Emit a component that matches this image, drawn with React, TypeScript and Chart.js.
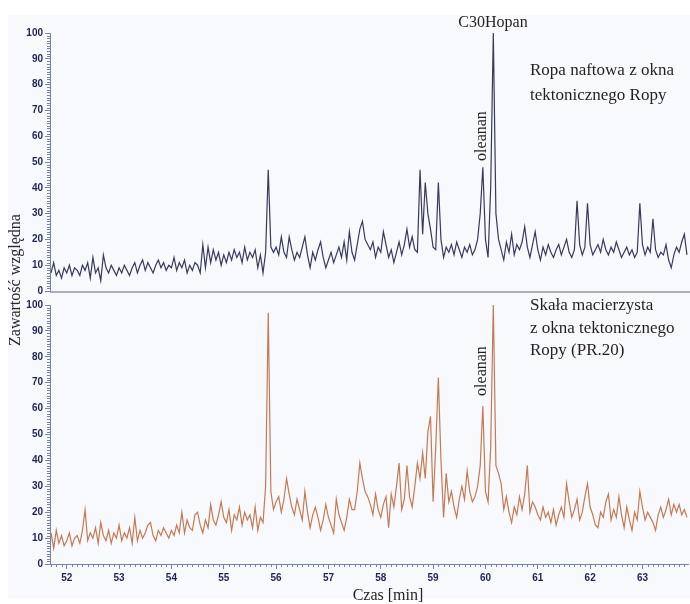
import React, { useEffect, useRef } from 'react';
import { Chart, registerables } from 'chart.js';

Chart.register(...registerables);

// sampling grid of the chromatograms (minutes)
const T_START = 51.7;
const T_STEP = 0.05;
const X_MIN = 51.68;
const X_MAX = 63.87;
const X_TICKS = [52, 53, 54, 55, 56, 57, 58, 59, 60, 61, 62, 63];
const Y_TICKS = [0, 10, 20, 30, 40, 50, 60, 70, 80, 90, 100];

// Ropa naftowa z okna tektonicznego Ropy (upper trace)
const ROPA = [
  7, 11, 6, 8, 5, 9,
  7, 10, 6, 9, 8, 6, 10, 8, 11, 5,
  13, 7, 9, 4, 14, 9, 7, 10, 8, 6,
  9, 7, 10, 8, 6, 9, 11, 7, 10, 12,
  8, 11, 9, 7, 10, 12, 9, 11, 8, 10,
  9, 13, 8, 11, 9, 12, 7, 10, 8, 11,
  10, 7, 18, 9, 17, 11, 16, 12, 15, 10,
  14, 11, 15, 12, 16, 13, 15, 11, 17, 12,
  15, 13, 16, 9, 14, 7, 15, 47, 17, 15,
  17, 14, 21, 15, 13, 21, 16, 12, 15, 13,
  17, 21, 14, 9, 15, 12, 16, 19, 13, 9,
  12, 15, 11, 14, 17, 13, 19, 12, 23, 15,
  12, 18, 24, 27, 20, 18, 16, 19, 13, 17,
  15, 23, 18, 13, 16, 11, 15, 19, 14, 18,
  24, 17, 21, 16, 15, 47, 22, 42, 30, 24,
  17, 16, 42, 20, 13, 17, 15, 18, 14, 19,
  16, 13, 17, 15, 18, 14, 16, 20, 30, 48,
  20, 13, 40, 100, 30, 20, 16, 12, 19, 15,
  22, 14, 18, 16, 19, 25, 17, 13, 18, 23,
  16, 12, 17, 14, 18, 15, 13, 16, 18, 14,
  17, 20, 15, 13, 16, 35, 18, 14, 17, 34,
  18, 14, 16, 18, 15, 20, 16, 14, 17, 15,
  19, 16, 13, 15, 17, 14, 16, 13, 15, 34,
  18, 14, 17, 15, 28, 16, 13, 15, 14, 18,
  12, 9, 14, 17, 15, 19, 22, 14,
];

// Skała macierzysta z okna tektonicznego Ropy (PR.20) (lower trace)
const SKALA = [
  12, 6, 13, 8, 11, 7,
  9, 12, 7, 10, 11, 8, 13, 21, 9, 12,
  10, 14, 8, 16, 11, 9, 13, 8, 12, 10,
  15, 9, 12, 10, 14, 8, 18, 9, 13, 10,
  12, 15, 16, 11, 9, 13, 11, 14, 12, 10,
  13, 11, 15, 12, 20, 12, 17, 14, 13, 19,
  20, 15, 12, 17, 14, 23, 17, 15, 19, 24,
  18, 16, 21, 13, 19, 17, 22, 15, 20, 17,
  19, 14, 22, 13, 18, 16, 30, 97, 28, 21,
  24, 26, 20, 25, 33, 27, 22, 19, 25, 21,
  17, 28, 20, 14, 19, 22, 18, 13, 17, 23,
  18, 15, 12, 25, 19, 16, 13, 18, 25, 21,
  21, 28, 39, 33, 28, 26, 23, 19, 27, 21,
  18, 23, 26, 14, 27, 22, 30, 39, 21, 25,
  38, 26, 22, 30, 39, 33, 43, 33, 51, 57,
  24, 45, 72, 40, 18, 35, 24, 28, 22, 18,
  25, 30, 25, 36, 28, 24, 26, 30, 38, 61,
  28, 24, 45, 100, 38, 35, 31, 21, 26, 20,
  16, 22, 19, 26, 21, 27, 38, 20, 24, 22,
  19, 17, 22, 18, 20, 16, 21, 15, 19, 22,
  18, 31, 24, 18, 21, 25, 17, 20, 26, 31,
  22, 19, 15, 14, 20, 18, 24, 27, 17, 21,
  18, 26, 19, 14, 22, 17, 13, 20, 17, 28,
  22, 17, 20, 18, 16, 13, 19, 22, 18, 21,
  25, 19, 23, 20, 23, 19, 21, 18,
];

const W = 690;
const H = 604;
const AXIS_COLOR = '#7684a3';
const TICK_TEXT = '#1f2350';
const TEXT_COLOR = '#231f20';
const SERIF = '"Liberation Serif", "Times New Roman", serif';
const SANS = '"Liberation Sans", Arial, sans-serif';

function toPoints(vals: number[]) {
  return vals.map((v, i) => ({ x: Math.round((T_START + i * T_STEP) * 100) / 100, y: v }));
}

const minorTicks = {
  id: 'minorTicks',
  afterDraw(chart: any, _args: any, opts: any) {
    const { ctx, chartArea } = chart;
    const ys = chart.scales.y;
    const xs = chart.scales.x;
    ctx.save();
    ctx.strokeStyle = AXIS_COLOR;
    ctx.lineWidth = 1;
    ctx.beginPath();
    for (let v = 0; v <= 100; v++) {
      if (v % 10 === 0) continue;
      const py = Math.round(ys.getPixelForValue(v)) + 0.5;
      ctx.moveTo(chartArea.left - 3, py);
      ctx.lineTo(chartArea.left, py);
    }
    if (opts && opts.x) {
      for (let k = Math.ceil(X_MIN * 10); k <= Math.floor(X_MAX * 10); k++) {
        if (k % 10 === 0) continue;
        const px = Math.round(xs.getPixelForValue(k / 10)) + 0.5;
        ctx.moveTo(px, chartArea.bottom);
        ctx.lineTo(px, chartArea.bottom + 3);
      }
    }
    ctx.stroke();
    ctx.restore();
  },
};

function makeConfig(values: number[], color: string, width: number, padTop: number, padBottom: number, showX: boolean): any {
  const tickFont = { family: SANS, size: 10, weight: 'bold' as const };
  return {
    type: 'line',
    data: {
      datasets: [
        {
          data: toPoints(values),
          borderColor: color,
          borderWidth: width,
          pointRadius: 0,
          tension: 0,
          fill: false,
        },
      ],
    },
    options: {
      animation: false,
      responsive: false,
      events: [],
      layout: { padding: { left: 0, right: 2, top: padTop, bottom: padBottom } },
      plugins: {
        legend: { display: false },
        tooltip: { enabled: false },
        minorTicks: { x: showX },
      },
      scales: {
        x: {
          type: 'linear',
          min: X_MIN,
          max: X_MAX,
          display: showX,
          afterBuildTicks: (s: any) => {
            s.ticks = X_TICKS.map((v) => ({ value: v }));
          },
          afterFit: (s: any) => {
            s.height = showX ? 30 : 0;
          },
          ticks: {
            font: tickFont,
            color: TICK_TEXT,
            padding: 3,
            maxRotation: 0,
            autoSkip: false,
            callback: (v: any) => String(v),
          },
          grid: { drawOnChartArea: false, drawTicks: true, tickLength: 5, color: AXIS_COLOR },
          border: { display: true, color: AXIS_COLOR, width: 1 },
        },
        y: {
          type: 'linear',
          min: 0,
          max: 100,
          afterBuildTicks: (s: any) => {
            s.ticks = Y_TICKS.map((v) => ({ value: v }));
          },
          afterFit: (s: any) => {
            s.width = 50;
          },
          ticks: {
            font: tickFont,
            color: TICK_TEXT,
            padding: 2,
            autoSkip: false,
            callback: (v: any) => String(v),
          },
          grid: { drawOnChartArea: false, drawTicks: true, tickLength: 5, color: AXIS_COLOR },
          border: { display: true, color: AXIS_COLOR, width: 1 },
        },
      },
    },
    plugins: [minorTicks],
  };
}

const abs = (extra: React.CSSProperties): React.CSSProperties => ({
  position: 'absolute',
  whiteSpace: 'nowrap',
  color: TEXT_COLOR,
  fontFamily: SERIF,
  ...extra,
});

export default function App() {
  const topRef = useRef<HTMLCanvasElement>(null);
  const botRef = useRef<HTMLCanvasElement>(null);

  useEffect(() => {
    const top = new Chart(topRef.current as HTMLCanvasElement, makeConfig(ROPA, '#383a5c', 1.2, 33, H - 291, false));
    const bot = new Chart(botRef.current as HTMLCanvasElement, makeConfig(SKALA, '#c57a54', 1.2, 305, H - 564 - 30, true));
    return () => {
      top.destroy();
      bot.destroy();
    };
  }, []);

  return (
    <div style={{ position: 'fixed', left: 0, top: 0, width: W, height: H, background: '#ffffff', overflow: 'hidden' }}>
      <div style={{ position: 'absolute', left: 8, top: 15, width: W - 8, height: 583, background: '#f8f9fc' }} />
      <div style={{ position: 'absolute', left: 50, top: 291, width: W - 50, height: 2, background: '#adadb3' }} />
      <canvas ref={topRef} width={W} height={H} style={{ position: 'absolute', left: 0, top: 0, width: W, height: H }} />
      <canvas ref={botRef} width={W} height={H} style={{ position: 'absolute', left: 0, top: 0, width: W, height: H }} />

      <div style={abs({ left: 15, top: 280, fontSize: 16, transform: 'translate(-50%, -50%) rotate(-90deg)' })}>Zawartość względna</div>
      <div style={abs({ left: 388, top: 595, fontSize: 16, transform: 'translate(-50%, -50%)' })}>Czas [min]</div>
      <div style={abs({ left: 493, top: 22, fontSize: 16, transform: 'translate(-50%, -50%)' })}>C30Hopan</div>
      <div style={abs({ left: 481, top: 136, fontSize: 16, transform: 'translate(-50%, -50%) rotate(-90deg)' })}>oleanan</div>
      <div style={abs({ left: 481, top: 371, fontSize: 16, transform: 'translate(-50%, -50%) rotate(-90deg)' })}>oleanan</div>
      <div style={abs({ left: 530, top: 57, fontSize: 17, lineHeight: '25px' })}>
        Ropa naftowa z okna
        <br />
        tektonicznego Ropy
      </div>
      <div style={abs({ left: 530, top: 294, fontSize: 17, lineHeight: '22.5px' })}>
        Skała macierzysta
        <br />
        z okna tektonicznego
        <br />
        Ropy (PR.20)
      </div>
    </div>
  );
}
